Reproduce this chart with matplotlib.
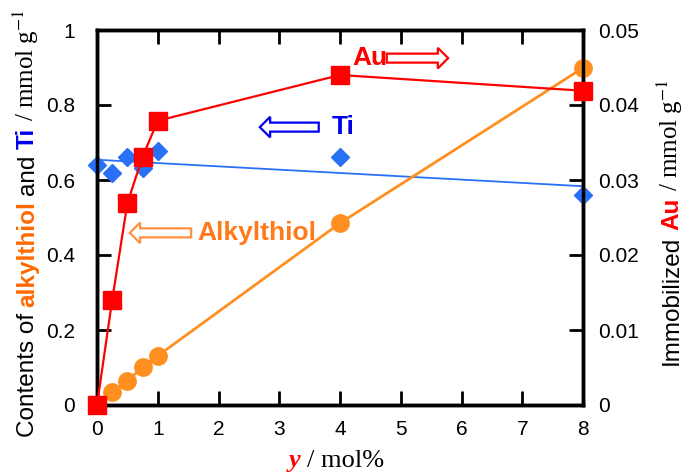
import numpy as np
import matplotlib
matplotlib.use("Agg")
from matplotlib import pyplot as plt
from matplotlib.patches import FancyArrow

plt.rcParams['font.family'] = ['Liberation Sans', 'DejaVu Sans']
plt.rcParams['mathtext.fontset'] = 'stix'

# data
y_mol = [0, 0.25, 0.5, 0.75, 1, 4, 8]
au = [0, 0.0140, 0.0269, 0.0331, 0.0379, 0.0440, 0.0419]
thiol_x = [0.25, 0.5, 0.75, 1, 4, 8]
thiol = [0.035, 0.064, 0.101, 0.131, 0.485, 0.899]
ti = [0.640, 0.619, 0.661, 0.632, 0.677, 0.661, 0.560]

x_ticks = [0, 1, 2, 3, 4, 5, 6, 7, 8]
left_ticks = [0, 0.2, 0.4, 0.6, 0.8, 1]
right_ticks = [0, 0.01, 0.02, 0.03, 0.04, 0.05]

RED = '#ff0000'
ORANGE = '#ff9020'
BLUE = '#2a70f5'

W, H = 684, 472
fig = plt.figure(figsize=(W / 100, H / 100), dpi=100)
ax = fig.add_axes([97 / W, 1 - 405 / H, (583 - 97) / W, (405 - 30) / H])
ax2 = ax.twinx()

# Ti with linear fit
k, b = np.polyfit(y_mol, ti, 1)
xf = np.array([0, 8])
ax.plot(xf, k * xf + b, color=BLUE, lw=1.3, zorder=2)
ax.plot(y_mol, ti, 'D', color=BLUE, ms=9.5, clip_on=False, zorder=3)

# alkylthiol
ax.plot(thiol_x, thiol, '-o', color=ORANGE, lw=2, ms=12.5, clip_on=False, zorder=3)

# Au on right axis
ax2.plot(y_mol, au, '-s', color=RED, lw=1.6, ms=13, clip_on=False, zorder=4)

ax.set_xlim(0, 8)
ax.set_ylim(0, 1)
ax2.set_ylim(0, 0.05)
ax.set_xticks(x_ticks)
ax.set_yticks(left_ticks)
ax2.set_yticks(right_ticks)
ax.set_yticklabels([f"{v:g}" for v in left_ticks])
ax2.set_yticklabels([f"{v:g}" for v in right_ticks])

for a in (ax, ax2):
    for s in a.spines.values():
        s.set_linewidth(2.5)
    a.tick_params(direction='in', length=10, width=2, labelsize=15)
ax.tick_params(axis='x', top=True, pad=11)
ax.tick_params(axis='y', pad=16)
ax2.tick_params(axis='y', pad=11)

# annotations
ax.text(4.49, 0.925, "Au", color=RED, fontsize=19, fontweight='bold', ha='center', va='center')
ax.text(4.05, 0.741, "Ti", color='#0000ee', fontsize=19, fontweight='bold', ha='center', va='center')
ax.text(2.63, 0.459, "Alkylthiol", color='#ff7a1a', fontsize=19, fontweight='bold', ha='center', va='center')


def hollow_arrow(x0, x1, y, color):
    ax.add_patch(FancyArrow(x0, y, x1 - x0, 0, width=0.024, head_width=0.055,
                            head_length=0.17, length_includes_head=True,
                            fc='white', ec=color, lw=1.6, zorder=5))


hollow_arrow(4.77, 5.78, 0.925, RED)
hollow_arrow(3.65, 2.68, 0.741, '#0000ee')
hollow_arrow(1.55, 0.54, 0.459, '#ff9040')

# multi-coloured axis labels
fig.canvas.draw()
renderer = fig.canvas.get_renderer()


def stack(px, py, pieces, rot):
    # px, py: start of baseline in pixels (from top-left)
    for s, gap, kw in pieces:
        t = fig.text(px / W, 1 - py / H, s, rotation=rot, rotation_mode='anchor',
                     ha='left', va='baseline', **kw)
        bb = t.get_window_extent(renderer)
        if rot == 90:
            py -= bb.height + gap
        else:
            px += bb.width + gap


sans = dict(fontsize=17.5, family=['Liberation Sans', 'DejaVu Sans'])
serif = dict(fontsize=18, family=['Liberation Serif', 'DejaVu Serif'])

stack(34, 437, [
    ("Contents of", 6, dict(sans)),
    ("alkylthiol", 6, dict(sans, color='#ff6a00', fontweight='bold')),
    ("and", 6, dict(sans)),
    ("Ti", 6, dict(sans, color='#0000ee', fontweight='bold')),
    ("/ mmol g$^{-1}$", 0, dict(serif)),
], 90)

stack(678, 365, [
    ("Immobilized", 6, dict(sans)),
    ("Au", 6, dict(sans, color=RED, fontweight='bold')),
    ("/ mmol g$^{-1}$", 0, dict(serif)),
], 90)

stack(289, 467, [
    ("y", 6, dict(serif, fontsize=19, color=RED, fontweight='bold', style='italic')),
    ("/ mol%", 0, dict(serif, fontsize=19)),
], 0)

fig.savefig("out.png", dpi=100)
